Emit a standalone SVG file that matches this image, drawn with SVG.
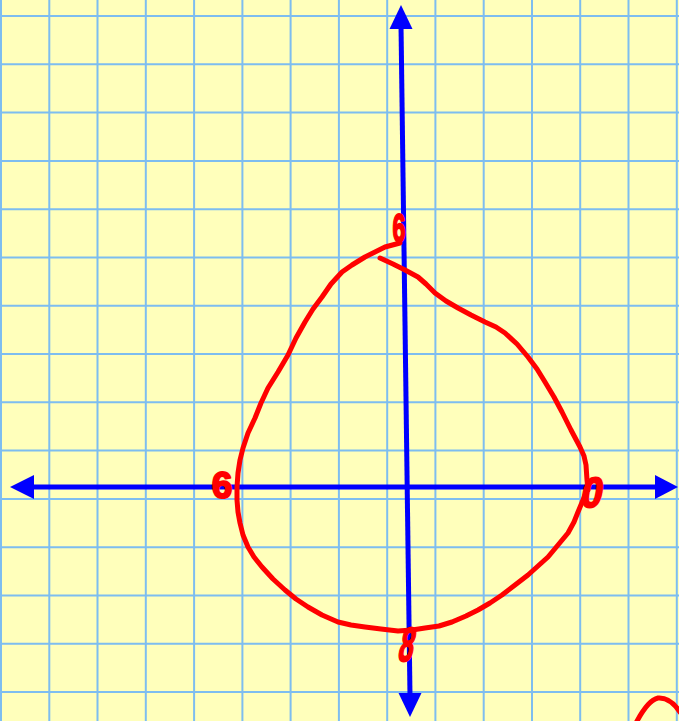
<svg xmlns="http://www.w3.org/2000/svg" width="679" height="721" viewBox="0 0 679 721">
<style>
.grid line{stroke:#7dbdf0;stroke-width:2}
.axis{stroke:#0000ff;stroke-width:5;fill:none}
.head{fill:#0000ff}
.curve{stroke:#ff0000;stroke-width:5;fill:none;stroke-linecap:round;stroke-linejoin:round}
.lbl{fill:#ff0000;stroke:#ff0000;stroke-width:2;stroke-linejoin:round;font-family:"Liberation Sans",Arial,sans-serif;font-weight:bold;text-anchor:middle}
</style>
<rect width="679" height="721" fill="#ffffbb"/>
<g id="grid" class="grid">
<line x1="1" y1="0" x2="1" y2="721"/><line x1="49.3" y1="0" x2="49.3" y2="721"/><line x1="97.5" y1="0" x2="97.5" y2="721"/><line x1="145.8" y1="0" x2="145.8" y2="721"/><line x1="194.1" y1="0" x2="194.1" y2="721"/><line x1="242.4" y1="0" x2="242.4" y2="721"/><line x1="290.6" y1="0" x2="290.6" y2="721"/><line x1="338.9" y1="0" x2="338.9" y2="721"/><line x1="387.2" y1="0" x2="387.2" y2="721"/><line x1="435.4" y1="0" x2="435.4" y2="721"/><line x1="483.7" y1="0" x2="483.7" y2="721"/><line x1="532" y1="0" x2="532" y2="721"/><line x1="580.2" y1="0" x2="580.2" y2="721"/><line x1="628.5" y1="0" x2="628.5" y2="721"/><line x1="676.8" y1="0" x2="676.8" y2="721"/>
<line x1="0" y1="16" x2="679" y2="16"/><line x1="0" y1="64.3" x2="679" y2="64.3"/><line x1="0" y1="112.6" x2="679" y2="112.6"/><line x1="0" y1="160.9" x2="679" y2="160.9"/><line x1="0" y1="209.2" x2="679" y2="209.2"/><line x1="0" y1="257.5" x2="679" y2="257.5"/><line x1="0" y1="305.7" x2="679" y2="305.7"/><line x1="0" y1="354" x2="679" y2="354"/><line x1="0" y1="402.3" x2="679" y2="402.3"/><line x1="0" y1="450.6" x2="679" y2="450.6"/><line x1="0" y1="498.9" x2="679" y2="498.9"/><line x1="0" y1="547.2" x2="679" y2="547.2"/><line x1="0" y1="595.5" x2="679" y2="595.5"/><line x1="0" y1="643.8" x2="679" y2="643.8"/><line x1="0" y1="692.1" x2="679" y2="692.1"/>
</g>
<g id="axes">
<line class="axis" x1="30" y1="487" x2="660" y2="487"/>
<polygon class="head" points="10,487 34,475 34,499"/>
<polygon class="head" points="678,487 655,475 655,499"/>
<line class="axis" x1="401" y1="25" x2="410" y2="696"/>
<polygon class="head" points="401,5 389.5,29 412.5,29"/>
<polygon class="head" points="410,717 398.5,693 421.5,693"/>
</g>
<g id="curve">
<polyline class="curve" points="400,243 385,247 365,257 352,265 342,272 331,284 322,297 313,309 305,322 296,338 288,355 278,372 268,388 261,403 255,418 248,433 243,448 240,460 238,473 237,487 237,500 238,512 240,523 243,535 248,547 254,557 262,567 273,579 285,590 296,599 308,607 322,615 338,622 351,625 365,627 381,629 398,631 412,630 425,628 439,626 452,622 466,616 478,610 490,603 502,595 515,585 528,575 538,566 548,557 558,545 568,533 574,522 578,512 583,500 587,490"/>
<polyline class="curve" points="380,258 393,264 405,270 418,277 426,284 435,293 446,301 458,308 471,315 485,322 496,327 505,333 517,344 528,357 537,369 545,382 554,397 562,412 571,430 580,447 584,456 586,465 587,480 588,490"/>
<path class="curve" d="M636,723 Q648,700 658,698 Q670,697 680,712"/>
</g>
<g id="labels">
<text class="lbl" font-size="40" transform="translate(399,242) scale(0.58,1)">6</text>
<text class="lbl" font-size="37" transform="translate(222,498)">6</text>
<text class="lbl" font-size="40" transform="translate(590,507) skewX(-10) scale(0.95,1.05)">0</text>
<text class="lbl" font-size="48" transform="translate(404,661) skewX(-12) scale(0.55,1)">8</text>
</g>
</svg>
